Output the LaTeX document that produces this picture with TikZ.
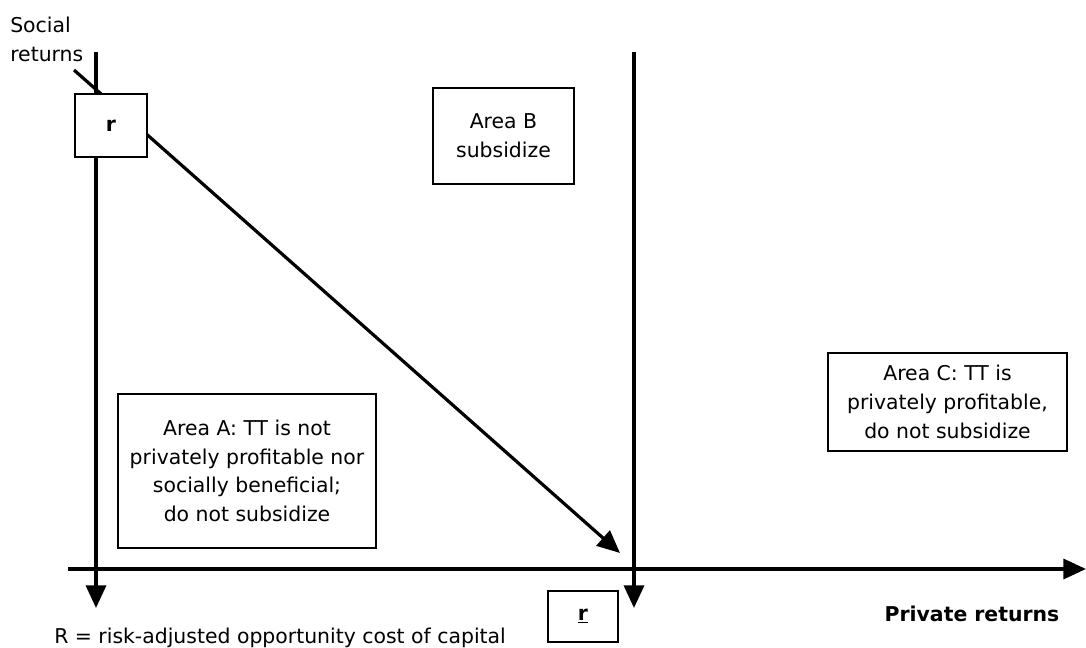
\documentclass[tikz,border=0pt]{standalone}
\usepackage{fontspec}
\setmainfont{DejaVu Sans}
\usetikzlibrary{arrows.meta}

\begin{document}
\begin{tikzpicture}[x=0.75pt,y=-0.75pt,
	every node/.style={font=\fontsize{15.3}{21.5}\selectfont},
	box/.style={shape=rectangle,draw=black,line width=1.5pt,fill=white,align=center,inner sep=0pt},
	axis/.style={line width=2.6pt,-{Triangle[length=17pt,width=15pt]}}]
	
	\useasboundingbox (0,0) rectangle (1086,648);
	
	% axes and the threshold line
	\coordinate (ytop) at (96,52);
	\coordinate (ybot) at (96,608);
	\coordinate (xleft) at (68,569);
	\coordinate (xright) at (1086,569);
	\coordinate (rtop) at (634,52);
	\coordinate (rbot) at (634,608);
	\coordinate (dstart) at (74,70);
	\coordinate (dend) at (620,553);
	
	\draw[axis] (ytop) -- (ybot);
	\draw[axis] (xleft) -- (xright);
	\draw[axis] (rtop) -- (rbot);
	\draw[axis,line width=2.4pt] (dstart) -- (dend);
	
	% boxes (sizes in pt = px*0.75)
	\node[box,minimum width=54pt,minimum height=47pt] (rsoc) at (111,125.5) {\textbf{r}};
	\node[box,minimum width=52.5pt,minimum height=38pt] (rpriv) at (583,616.5) {\underline{\textbf{r}}};
	\node[box,minimum width=105.75pt,minimum height=72pt] (areaB) at (503.5,136) {Area B\\subsidize};
	\node[box,minimum width=193.5pt,minimum height=115.5pt] (areaA) at (247,471)
		{Area A: TT is not\\privately profitable nor\\socially beneficial;\\do not subsidize};
	\node[box,minimum width=179.25pt,minimum height=73.5pt] (areaC) at (947.5,402)
		{Area C: TT is\\privately profitable,\\do not subsidize};
	
	% labels
	\node[anchor=north west,align=left,inner sep=0pt] (ylabel) at (10,17) {Social\\returns};
	\node[anchor=south,inner sep=0pt] (xlabel) at (972,622) {\textbf{Private returns}};
	\node[anchor=base west,inner sep=0pt] (note) at (54,643) {R = risk-adjusted opportunity cost of capital};
	
\end{tikzpicture}
\end{document}
